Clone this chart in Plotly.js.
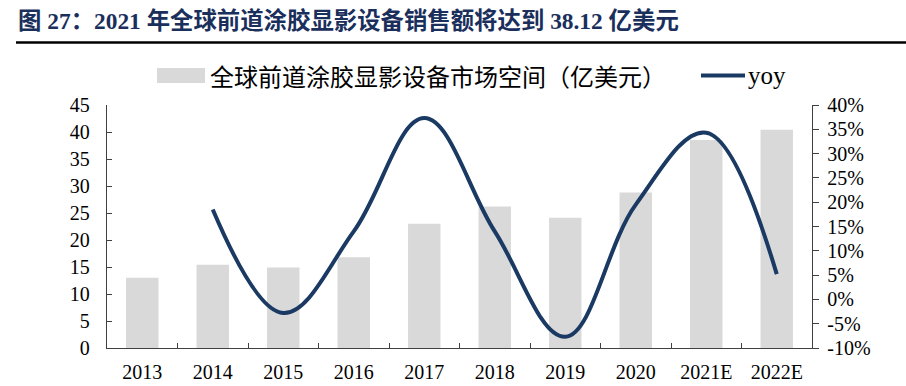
<!DOCTYPE html>
<html>
<head>
<meta charset="utf-8">
<script src="https://cdn.plot.ly/plotly-3.0.1.min.js"></script>
<style>html,body{margin:0;padding:0;background:#fff;}#chart{width:906px;height:386px;}</style>
</head>
<body>
<div id="chart"></div>
<script>
const years = ["2013","2014","2015","2016","2017","2018","2019","2020","2021E","2022E"];
const marketSize = [13.0, 15.4, 14.9, 16.8, 23.0, 26.2, 24.1, 28.8, 38.5, 40.4];
const yoyYears = ["2014","2015","2016","2017","2018","2019","2020","2021E","2022E"];
const yoyPct = [18.5, -2.8, 14.0, 37.3, 14.0, -7.7, 19.5, 34.3, 5.2];
const leftTicks = [0,5,10,15,20,25,30,35,40,45];
const rightTicks = [-10,-5,0,5,10,15,20,25,30,35,40];
const titleText = "图 27：2021 年全球前道涂胶显影设备销售额将达到 38.12 亿美元";
const barName = "全球前道涂胶显影设备市场空间（亿美元）";
const lineName = "yoy";

const W = 906, H = 386, L = 107, R = 94, T = 105, B = 38;
const pw = W - L - R, ph = H - T - B;
const px = v => (v - L) / pw;
const py = v => (H - B - v) / ph;

const serif = "Liberation Serif";
const navy = "#1b3a63";
const bar = "#d9d9d9";
const tf = {family: serif, size: 20, color: "#000"};

const traces = [
  {type:"bar", x: years, y: marketSize, name: barName, marker:{color: bar}, width: 0.46, yaxis:"y", showlegend:false, hoverinfo:"skip"},
  {type:"scatter", mode:"lines", x: yoyYears, y: yoyPct, name: lineName, yaxis:"y2",
   line:{color: navy, width: 4, shape:"spline", smoothing: 1.1}, showlegend:false, hoverinfo:"skip"}
];

const layout = {
  width: W, height: H,
  margin: {l: L, r: R, t: T, b: B},
  font: {family: serif, size: 20, color: "#000"},
  paper_bgcolor: "#fff", plot_bgcolor: "#fff",
  showlegend: false,
  title: {text: "<b>" + titleText + "</b>", x: 18/W, xanchor: "left", xref: "container",
          y: 1 - 21/H, yanchor: "middle", yref: "container",
          font: {family: "Liberation Serif, Noto Sans CJK SC", size: 23.4, color: "#1a2f5c"}},
  xaxis: {type:"category", categoryorder:"array", categoryarray: years, tickson:"boundaries",
          ticks:"inside", ticklen: 5, tickcolor:"#404040", showline:true, linecolor:"#404040", linewidth:1.3,
          showgrid:false, zeroline:false, tickfont: tf, ticklabelstandoff: 6},
  yaxis: {range:[0,45], tickvals: leftTicks, ticks:"inside", ticklen:5, tickcolor:"#404040",
          showline:true, linecolor:"#404040", linewidth:1.3, showgrid:false, zeroline:false,
          tickfont: tf, ticklabelstandoff: 12},
  yaxis2: {range:[-10,40], tickvals: rightTicks, ticktext: rightTicks.map(v => v + "%"), overlaying:"y", side:"right",
           ticks:"outside", ticklen:6, tickcolor:"#404040", showline:true, linecolor:"#404040", linewidth:1.3,
           showgrid:false, zeroline:false, tickfont: tf, ticklabelstandoff: 4},
  shapes: [
    {type:"line", xref:"paper", yref:"paper", x0: px(16), x1: px(906), y0: py(42.5), y1: py(42.5),
     line:{color:"#000", width:2.5}},
    {type:"rect", xref:"paper", yref:"paper", x0: px(157), x1: px(205), y0: py(83), y1: py(68),
     fillcolor: bar, line:{width:0}},
    {type:"line", xref:"paper", yref:"paper", x0: px(701), x1: px(745), y0: py(75.5), y1: py(75.5),
     line:{color: navy, width:4}}
  ],
  annotations: [
    {text: barName, xref:"paper", yref:"paper", x: px(208), y: py(75.5), xanchor:"left", yanchor:"middle",
     showarrow:false, font:{family:"Noto Sans CJK SC", size: 24, color:"#000"}},
    {text: lineName, xref:"paper", yref:"paper", x: px(746), y: py(75.5), xanchor:"left", yanchor:"middle",
     showarrow:false, font:{family: serif, size: 25, color:"#000"}}
  ]
};

Plotly.newPlot("chart", traces, layout, {displayModeBar:false, staticPlot:true});
</script>
</body>
</html>
